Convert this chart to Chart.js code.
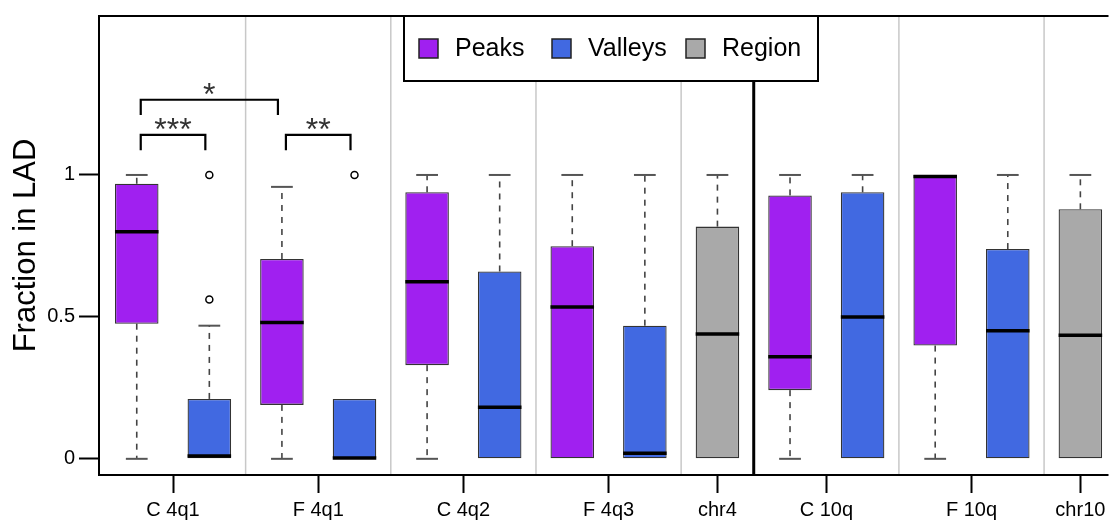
<!DOCTYPE html>
<html>
<head>
<meta charset="utf-8">
<script src="https://cdn.jsdelivr.net/npm/chart.js@4.4.1/dist/chart.umd.min.js"></script>
<style>
    html, body { margin: 0; padding: 0; background: #fff; overflow: hidden; }
    #wrap { width: 1112px; height: 521px; }
</style>
</head>
<body>
<div id="wrap"><canvas id="boxChart" width="1112" height="521"></canvas></div>
<script>
// categories along the x axis
var categories = ['C 4q1', 'F 4q1', 'C 4q2', 'F 4q3', 'chr4', 'C 10q', 'F 10q', 'chr10'];
var chromBreakAfter = 'chr4';

// five number summaries: [lower whisker, q1, median, q3, upper whisker]
var peaksStats = [
    [0, 0.476, 0.800, 0.969, 1],
    [0, 0.190, 0.480, 0.704, 0.958],
    [0, 0.330, 0.624, 0.939, 1],
    [0, 0, 0.535, 0.749, 1],
    null,
    [0, 0.242, 0.360, 0.928, 1],
    [0, 0.399, 0.995, 1, 1],
    null
];
var valleysStats = [
    [0, 0, 0.010, 0.211, 0.469],
    [0, 0, 0.003, 0.211, 0.211],
    [0, 0, 0.182, 0.660, 1],
    [0, 0, 0.020, 0.469, 1],
    null,
    [0, 0, 0.500, 0.939, 1],
    [0, 0, 0.451, 0.739, 1],
    null
];
var regionStats = [null, null, null, null, [0, 0, 0.440, 0.818, 1], null, null, [0, 0, 0.435, 0.879, 1]];
var valleysOutliers = [[0.561, 1], [1], [], [], [], [], [], []];

// significance brackets (box slots) and labels
var sigFrom = [0, 0, 2];
var sigTo = [2, 1, 3];
var sigLevel = [1.265, 1.141, 1.141];
var sigLabels = ['*', '***', '**'];

var yTicks = [0, 0.5, 1];

var seriesNames = ['Peaks', 'Valleys', 'Region'];
var seriesColors = ['#a020f0', '#4169e1', '#a9a9a9'];

// assign a slot to each box, in order
var slots = { Peaks: [], Valleys: [], Region: [] };
var tickPositions = [];
var separators = [];
var slot = 0;
categories.forEach(function (cat, i) {
    var first = slot;
    if (peaksStats[i]) { slots.Peaks.push({ x: slot++, s: peaksStats[i], out: [] }); }
    if (valleysStats[i]) { slots.Valleys.push({ x: slot++, s: valleysStats[i], out: valleysOutliers[i] }); }
    if (regionStats[i]) { slots.Region.push({ x: slot++, s: regionStats[i], out: [] }); }
    tickPositions.push((first + slot - 1) / 2);
    if (i < categories.length - 1) {
        separators.push({ x: slot - 0.5, heavy: cat === chromBreakAfter });
    }
});

var allBoxes = [];
seriesNames.forEach(function (name) {
    slots[name].forEach(function (b) { allBoxes.push(b); });
});

var outlierPoints = [];
allBoxes.forEach(function (b) {
    b.out.forEach(function (v) { outlierPoints.push({ x: b.x, y: v }); });
});

var FONT = "'Liberation Sans', Arial, Helvetica, sans-serif";

var boxPlugin = {
    id: 'boxParts',
    beforeDatasetsDraw: function (chart) {
        var ctx = chart.ctx, xs = chart.scales.x, ys = chart.scales.y, area = chart.chartArea;
        ctx.save();
        // separators between groups
        separators.forEach(function (sep) {
            var px = xs.getPixelForValue(sep.x);
            ctx.beginPath();
            ctx.strokeStyle = sep.heavy ? '#000' : '#c8c8c8';
            ctx.lineWidth = sep.heavy ? 3 : 1.5;
            ctx.moveTo(px, area.top);
            ctx.lineTo(px, area.bottom);
            ctx.stroke();
        });
        // whiskers and caps
        var half = (xs.getPixelForValue(0.6) - xs.getPixelForValue(0)) / 4;
        allBoxes.forEach(function (b) {
            var px = xs.getPixelForValue(b.x);
            var s = b.s;
            ctx.strokeStyle = '#444';
            ctx.lineWidth = 1.6;
            ctx.setLineDash([6, 6]);
            if (s[4] > s[3]) {
                ctx.beginPath();
                ctx.moveTo(px, ys.getPixelForValue(s[3]));
                ctx.lineTo(px, ys.getPixelForValue(s[4]));
                ctx.stroke();
            }
            if (s[1] > s[0]) {
                ctx.beginPath();
                ctx.moveTo(px, ys.getPixelForValue(s[1]));
                ctx.lineTo(px, ys.getPixelForValue(s[0]));
                ctx.stroke();
            }
            ctx.setLineDash([]);
            ctx.strokeStyle = '#555';
            ctx.lineWidth = 2;
            [[s[4], s[3]], [s[0], s[1]]].forEach(function (w) {
                if (w[0] !== w[1]) {
                    var py = ys.getPixelForValue(w[0]);
                    ctx.beginPath();
                    ctx.moveTo(px - half, py);
                    ctx.lineTo(px + half, py);
                    ctx.stroke();
                }
            });
        });
        ctx.restore();
    },
    afterDatasetsDraw: function (chart) {
        var ctx = chart.ctx, xs = chart.scales.x, ys = chart.scales.y, area = chart.chartArea;
        ctx.save();
        // medians
        var halfBox = (xs.getPixelForValue(0.6) - xs.getPixelForValue(0)) / 2;
        ctx.strokeStyle = '#000';
        ctx.lineWidth = 3.5;
        allBoxes.forEach(function (b) {
            var px = xs.getPixelForValue(b.x);
            var py = ys.getPixelForValue(b.s[2]);
            ctx.beginPath();
            ctx.moveTo(px - halfBox, py);
            ctx.lineTo(px + halfBox, py);
            ctx.stroke();
        });
        // significance brackets
        var inset = 0.055, leg = 0.054;
        sigLabels.forEach(function (lab, i) {
            var x1 = xs.getPixelForValue(sigFrom[i] + inset);
            var x2 = xs.getPixelForValue(sigTo[i] - inset);
            var y = ys.getPixelForValue(sigLevel[i]);
            var yl = ys.getPixelForValue(sigLevel[i] - leg);
            ctx.beginPath();
            ctx.strokeStyle = '#000';
            ctx.lineWidth = 2.2;
            ctx.moveTo(x1, yl);
            ctx.lineTo(x1, y);
            ctx.lineTo(x2, y);
            ctx.lineTo(x2, yl);
            ctx.stroke();
            ctx.font = '32px ' + FONT;
            ctx.fillStyle = '#333';
            ctx.textAlign = 'center';
            ctx.textBaseline = 'alphabetic';
            var m = ctx.measureText(lab);
            var cy = y - 11;
            ctx.fillText(lab, (x1 + x2) / 2, cy + (m.actualBoundingBoxAscent - m.actualBoundingBoxDescent) / 2);
        });
        ctx.restore();
    },
    afterDraw: function (chart) {
        var ctx = chart.ctx, area = chart.chartArea;
        ctx.save();
        // plot frame (right edge falls outside the picture)
        ctx.strokeStyle = '#000';
        ctx.lineWidth = 2;
        ctx.beginPath();
        ctx.moveTo(area.right + 2, area.top);
        ctx.lineTo(area.left, area.top);
        ctx.lineTo(area.left, area.bottom);
        ctx.lineTo(area.right + 2, area.bottom);
        ctx.stroke();

        // legend box
        var lx = 404, ly = area.top, lw = 414, lh = 65;
        ctx.fillStyle = '#fff';
        ctx.fillRect(lx, ly, lw, lh);
        ctx.strokeRect(lx, ly, lw, lh);
        var itemX = [15, 148, 282];
        var cy = ly + lh / 2;
        ctx.font = '25px ' + FONT;
        ctx.textAlign = 'left';
        ctx.textBaseline = 'middle';
        seriesNames.forEach(function (name, i) {
            var sx = lx + itemX[i];
            ctx.fillStyle = seriesColors[i];
            ctx.fillRect(sx, cy - 9.5, 19, 19);
            ctx.lineWidth = 1.5;
            ctx.strokeStyle = '#222';
            ctx.strokeRect(sx, cy - 9.5, 19, 19);
            ctx.fillStyle = '#000';
            ctx.fillText(name, sx + 36, cy + 1);
        });
        ctx.restore();
    }
};

var datasets = seriesNames.map(function (name, i) {
    return {
        type: 'bar',
        label: name,
        data: slots[name].map(function (b) { return { x: b.x, y: [b.s[1], b.s[3]] }; }),
        backgroundColor: seriesColors[i],
        borderColor: '#333',
        borderWidth: 1.3,
        borderSkipped: false,
        grouped: false,
        categoryPercentage: 1,
        barPercentage: 0.6
    };
});
datasets.push({
    type: 'scatter',
    label: 'outliers',
    data: outlierPoints,
    pointRadius: 3.5,
    pointBackgroundColor: '#fff',
    pointBorderColor: '#000',
    pointBorderWidth: 1.5
});

var ctxB = document.getElementById('boxChart');
if (ctxB) {
    var boxChart = new Chart(ctxB, {
        type: 'bar',
        data: { datasets: datasets },
        plugins: [boxPlugin],
        options: {
            responsive: false,
            animation: false,
            layout: { padding: { top: 16, left: 0, right: 0, bottom: 0 } },
            plugins: { legend: { display: false }, tooltip: { enabled: false } },
            scales: {
                x: {
                    type: 'linear',
                    min: -0.52,
                    max: 13.36,
                    offset: false,
                    afterFit: function (s) { s.height = 46; },
                    afterBuildTicks: function (s) {
                        s.ticks = tickPositions.map(function (v) { return { value: v }; });
                    },
                    border: { display: false },
                    grid: { offset: false, drawOnChartArea: false, drawTicks: true, tickLength: 18, tickColor: '#000', tickWidth: 2 },
                    ticks: {
                        autoSkip: false,
                        maxRotation: 0,
                        padding: 5,
                        color: '#000',
                        font: { family: FONT, size: 20 },
                        callback: function (v, idx) { return categories[idx]; }
                    }
                },
                y: {
                    min: -0.057,
                    max: 1.56,
                    afterFit: function (s) { s.width = 99; },
                    afterBuildTicks: function (s) {
                        s.ticks = yTicks.map(function (v) { return { value: v }; });
                    },
                    border: { display: false },
                    grid: { drawOnChartArea: false, drawTicks: true, tickLength: 20, tickColor: '#000', tickWidth: 2 },
                    ticks: {
                        padding: 4,
                        color: '#000',
                        font: { family: FONT, size: 20 },
                        callback: function (v) { return String(v); }
                    },
                    title: {
                        display: true,
                        text: 'Fraction in LAD',
                        color: '#000',
                        font: { family: FONT, size: 31 },
                        padding: { top: 8, bottom: 0 }
                    }
                }
            }
        }
    });
}
</script>
</body>
</html>
